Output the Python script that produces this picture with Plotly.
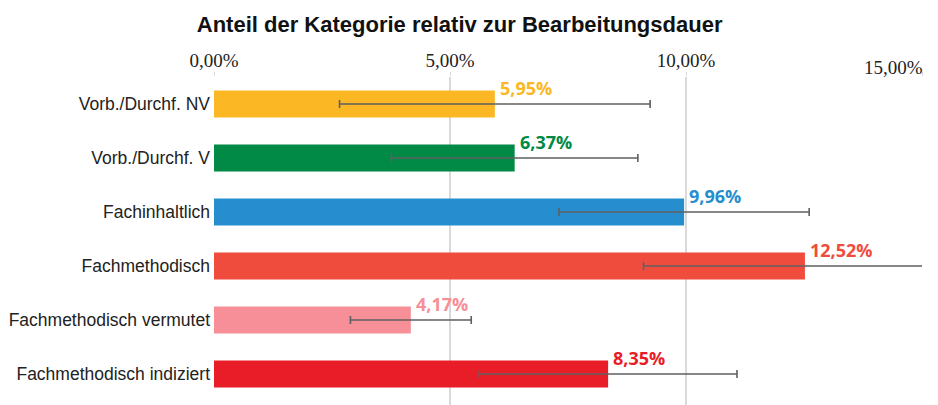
import plotly.graph_objects as go

# Categories (top to bottom) and their share of processing time in percent
categories = [
    "Vorb./Durchf. NV",
    "Vorb./Durchf. V",
    "Fachinhaltlich",
    "Fachmethodisch",
    "Fachmethodisch vermutet",
    "Fachmethodisch indiziert",
]
shares = [5.95, 6.37, 9.96, 12.52, 4.17, 8.35]
errors = [3.29, 2.61, 2.65, 3.42, 1.28, 2.73]
colors = ["#FBB724", "#008A45", "#268ECF", "#F04C3E", "#F68F97", "#E81D27"]

tick_values = [0, 5, 10, 15]


def fmt_pct(v):
    return f"{v:.2f}".replace(".", ",") + "%"


fig = go.Figure()
fig.add_trace(
    go.Bar(
        x=shares,
        y=categories,
        orientation="h",
        width=0.5,
        marker=dict(color=colors, line=dict(width=0)),
        error_x=dict(type="data", array=errors, visible=True,
                     color="#606060", thickness=1.6, width=4),
        hoverinfo="x+y",
    )
)

# Value labels above the end of each bar
for cat, val, col in zip(categories, shares, colors):
    fig.add_annotation(
        x=val, y=cat, xref="x", yref="y",
        text=fmt_pct(val), showarrow=False,
        xanchor="left", yanchor="middle", xshift=3, yshift=16,
        font=dict(family="Open Sans", size=18, color=col, weight="bold"),
    )

# Last tick label sits at the right edge, slightly lower
fig.add_annotation(
    x=tick_values[-1], y=1, xref="x", yref="paper",
    text=fmt_pct(tick_values[-1]), showarrow=False,
    xanchor="right", yanchor="bottom", xshift=3, yshift=-3,
    font=dict(family="Liberation Serif", size=19, color="#222222"),
)

fig.update_layout(
    width=938, height=405,
    margin=dict(l=214, r=16, t=77, b=0),
    paper_bgcolor="white", plot_bgcolor="white",
    showlegend=False,
    title=dict(
        text="<b>Anteil der Kategorie relativ zur Bearbeitungsdauer</b>",
        x=0.49, xanchor="center", y=0.94, yanchor="middle",
        font=dict(family="Liberation Sans", size=22, color="#111111"),
    ),
    xaxis=dict(
        side="top", range=[0, 15],
        tickvals=tick_values,
        ticktext=[fmt_pct(v) for v in tick_values[:-1]] + [""],
        tickfont=dict(family="Liberation Serif", size=19, color="#222222"),
        showgrid=True, gridcolor="#D9D9D9", gridwidth=1.5,
        zeroline=False, showline=False,
        ticks="outside", ticklen=4, tickcolor="#D9D9D9",
        ticklabelstandoff=-3,
        fixedrange=True,
    ),
    yaxis=dict(
        type="category", categoryorder="array", categoryarray=categories,
        range=[5.574, -0.5],
        tickfont=dict(family="Liberation Sans", size=17.5, color="#222222"),
        showgrid=False, zeroline=False, showline=False,
        ticks="", ticklabelstandoff=3,
        fixedrange=True,
    ),
)

fig.write_html("out.html")
